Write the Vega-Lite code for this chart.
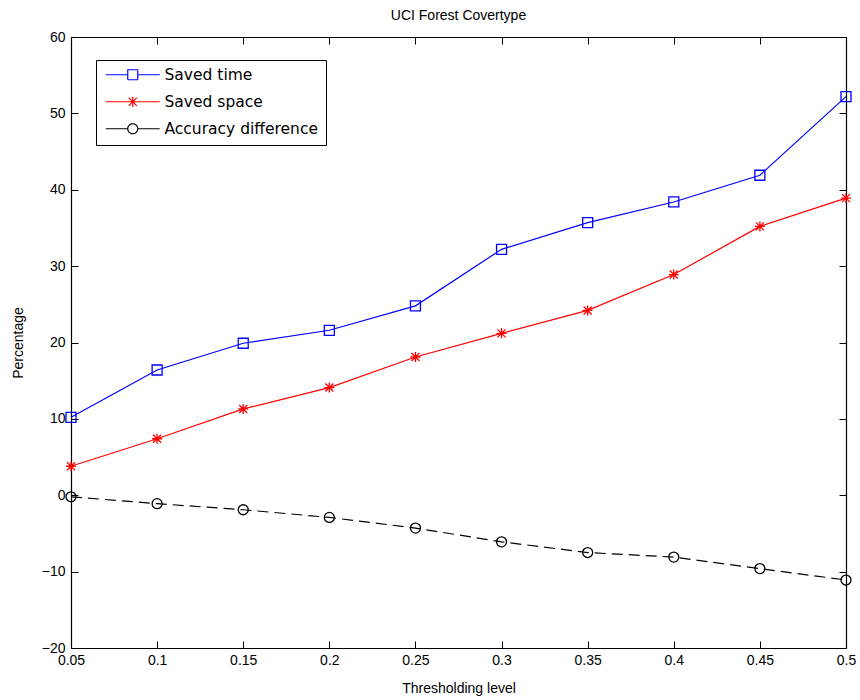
{
  "$schema": "https://vega.github.io/schema/vega-lite/v6.json",
  "autosize": "none",
  "width": 775,
  "height": 611,
  "padding": {"left": 71, "top": 37, "right": 14, "bottom": 52},
  "background": "white",
  "title": {"text": "UCI Forest Covertype", "fontSize": 14, "font": "Liberation Sans", "fontWeight": "normal", "offset": 7, "color": "black"},
  "config": {
    "view": {"stroke": null},
    "font": "Liberation Sans",
    "axis": {"domainColor": "black", "tickColor": "black", "labelColor": "black", "titleColor": "black", "labelFontSize": 14, "titleFontSize": 14, "titleFontWeight": "normal", "grid": false, "tickSize": -7, "domainWidth": 1.2, "tickWidth": 1}
  },
  "data": {"values": [
    {"t": 0.05, "v": 10.2, "s": "Saved time"},
    {"t": 0.1, "v": 16.4, "s": "Saved time"},
    {"t": 0.15, "v": 19.9, "s": "Saved time"},
    {"t": 0.2, "v": 21.6, "s": "Saved time"},
    {"t": 0.25, "v": 24.8, "s": "Saved time"},
    {"t": 0.3, "v": 32.2, "s": "Saved time"},
    {"t": 0.35, "v": 35.7, "s": "Saved time"},
    {"t": 0.4, "v": 38.4, "s": "Saved time"},
    {"t": 0.45, "v": 41.9, "s": "Saved time"},
    {"t": 0.5, "v": 52.2, "s": "Saved time"},
    {"t": 0.05, "v": 3.8, "s": "Saved space"},
    {"t": 0.1, "v": 7.4, "s": "Saved space"},
    {"t": 0.15, "v": 11.3, "s": "Saved space"},
    {"t": 0.2, "v": 14.1, "s": "Saved space"},
    {"t": 0.25, "v": 18.1, "s": "Saved space"},
    {"t": 0.3, "v": 21.2, "s": "Saved space"},
    {"t": 0.35, "v": 24.2, "s": "Saved space"},
    {"t": 0.4, "v": 28.9, "s": "Saved space"},
    {"t": 0.45, "v": 35.2, "s": "Saved space"},
    {"t": 0.5, "v": 38.9, "s": "Saved space"},
    {"t": 0.05, "v": -0.2, "s": "Accuracy difference"},
    {"t": 0.1, "v": -1.1, "s": "Accuracy difference"},
    {"t": 0.15, "v": -1.9, "s": "Accuracy difference"},
    {"t": 0.2, "v": -2.9, "s": "Accuracy difference"},
    {"t": 0.25, "v": -4.3, "s": "Accuracy difference"},
    {"t": 0.3, "v": -6.1, "s": "Accuracy difference"},
    {"t": 0.35, "v": -7.5, "s": "Accuracy difference"},
    {"t": 0.4, "v": -8.1, "s": "Accuracy difference"},
    {"t": 0.45, "v": -9.6, "s": "Accuracy difference"},
    {"t": 0.5, "v": -11.1, "s": "Accuracy difference"}
  ]},
  "encoding": {
    "x": {"field": "t", "type": "quantitative", "scale": {"domain": [0.05, 0.5], "nice": false, "zero": false}},
    "y": {"field": "v", "type": "quantitative", "scale": {"domain": [-20, 60], "nice": false}},
    "color": {"field": "s", "type": "nominal", "scale": {"domain": ["Saved time", "Saved space", "Accuracy difference"], "range": ["#0000ff", "#ff0000", "#000000"]},
      "legend": {
        "title": null, "orient": "none", "legendX": 25, "legendY": 23,
        "strokeColor": "black", "fillColor": "white", "padding": 7,
        "labelFont": "DejaVu Sans", "labelFontSize": 15.5, "labelColor": "black", "symbolSize": 100, "symbolStrokeWidth": 1.2,
        "rowPadding": 10, "symbolOffset": 22, "labelOffset": 24,
        "encode": {"symbols": {"update": {"shape": {"signal": "datum.value == 'Saved time' ? 'M-5.4,0H-1M1,0H5.4M-1,-1H1V1H-1Z' : datum.value == 'Saved space' ? 'M-5.4,0H5.4M0,-1V1M-0.8,-0.8L0.8,0.8M-0.8,0.8L0.8,-0.8' : 'M-5.4,0H-1M1,0H5.4M1,0A1,1 0 1,1 -1,0A1,1 0 1,1 1,0Z'"}, "fill": {"value": "transparent"}, "strokeDash": {"value": [1, 0]}}}}
      }}
  },
  "layer": [
    {
      "transform": [{"filter": "datum.s != 'Accuracy difference'"}],
      "mark": {"type": "line", "strokeWidth": 1.2},
      "encoding": {
        "x": {"field": "t", "type": "quantitative", "axis": {"title": "Thresholding level", "values": [0.05, 0.1, 0.15, 0.2, 0.25, 0.3, 0.35, 0.4, 0.45, 0.5], "format": "~g", "labelPadding": 12, "titlePadding": 14, "labelFlush": false, "labelOverlap": false}},
        "y": {"field": "v", "type": "quantitative", "axis": {"title": "Percentage", "values": [-20, -10, 0, 10, 20, 30, 40, 50, 60], "labelPadding": 13, "titlePadding": 16}}
      }
    },
    {
      "transform": [{"filter": "datum.s == 'Accuracy difference'"}],
      "mark": {"type": "line", "strokeWidth": 1.2, "strokeDash": [11, 6]},
      "encoding": {
        "x": {"field": "t", "type": "quantitative", "axis": null},
        "y": {"field": "v", "type": "quantitative", "axis": null}
      }
    },
    {
      "transform": [{"filter": "datum.s == 'Saved time'"}],
      "mark": {"type": "point", "filled": false, "size": 100, "strokeWidth": 1.3, "opacity": 1, "shape": "square"},
      "encoding": {
        "x": {"field": "t", "type": "quantitative", "axis": {"orient": "top", "labels": false, "title": null, "values": [0.05, 0.1, 0.15, 0.2, 0.25, 0.3, 0.35, 0.4, 0.45, 0.5]}},
        "y": {"field": "v", "type": "quantitative", "axis": {"orient": "right", "labels": false, "title": null, "values": [-20, -10, 0, 10, 20, 30, 40, 50, 60]}}
      }
    },
    {
      "transform": [{"filter": "datum.s == 'Saved space'"}],
      "mark": {"type": "point", "filled": false, "size": 100, "strokeWidth": 1.3, "opacity": 1, "shape": "M-1,0H1M0,-1V1M-0.8,-0.8L0.8,0.8M-0.8,0.8L0.8,-0.8"},
      "encoding": {
        "x": {"field": "t", "type": "quantitative", "axis": null},
        "y": {"field": "v", "type": "quantitative", "axis": null}
      }
    },
    {
      "transform": [{"filter": "datum.s == 'Accuracy difference'"}],
      "mark": {"type": "point", "filled": false, "size": 100, "strokeWidth": 1.3, "opacity": 1, "shape": "circle"},
      "encoding": {
        "x": {"field": "t", "type": "quantitative", "axis": null},
        "y": {"field": "v", "type": "quantitative", "axis": null}
      }
    }
  ],
  "resolve": {"axis": {"x": "independent", "y": "independent"}}
}
